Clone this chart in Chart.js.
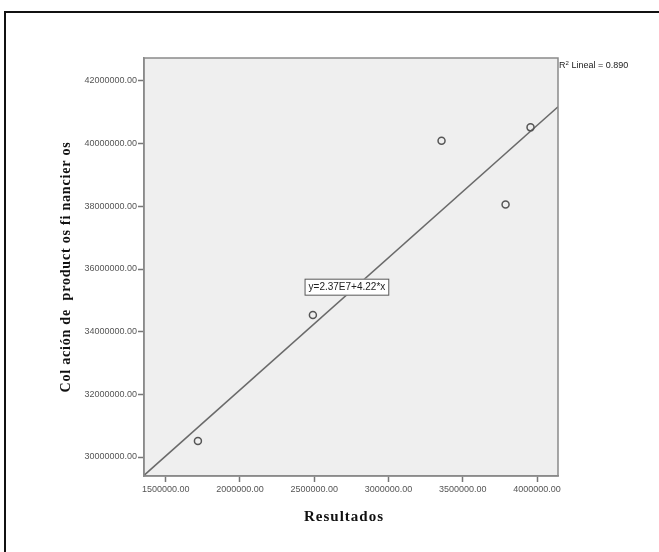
<!DOCTYPE html>
<html>
<head>
<meta charset="utf-8">
<script src="https://cdn.jsdelivr.net/npm/chart.js@4"></script>
<style>
  html, body { margin: 0; padding: 0; background: #fff; }
  #wrap { position: relative; width: 659px; height: 552px; overflow: hidden; }
  #frame { position: absolute; left: 4px; top: 11px; width: 700px; height: 600px; border: 2px solid #111; box-sizing: border-box; }
  #c { position: absolute; left: 0; top: 0; }
</style>
</head>
<body>
<div id="wrap">
  <div id="frame"></div>
  <canvas id="c" width="659" height="552"></canvas>
</div>
<script>
// ── DATOS ─────────────────────────────────────────────────────────────────────
const resultados = [1717000, 2491000, 3357000, 3788000, 3956000]
const colocacion = [30510000, 34530000, 40090000, 38060000, 40520000]

const xTicks = [1500000, 2000000, 2500000, 3000000, 3500000, 4000000]
const yTicks = [30000000, 32000000, 34000000, 36000000, 38000000, 40000000, 42000000]

const xRange = [1354000, 4141000]
const yRange = [29394000, 42734000]

// recta de ajuste mostrada en el gráfico: y = 2.37E7 + 4.22*x
const fitIntercept = 2.37e7
const fitSlope     = 4.22
const fitLabel     = 'y=2.37E7+4.22*x'
const fitLabelAt   = [2720000, 35420000]
const r2Label      = 'Lineal = 0.890'

const xTitle = 'Resultados'
const yTitle = 'Col ación de  product os fi nancier os'

const fitLine = xRange.map(x => ({ x, y: fitIntercept + fitSlope * x }))

// ── PLUGINS ───────────────────────────────────────────────────────────────────

// Fondo gris del área de trazado + marco
const plotBox = {
  id: 'plot-box',
  beforeDraw(chart) {
    const { ctx, chartArea: { left, top, right, bottom } } = chart
    ctx.save()
    ctx.fillStyle = '#efefef'
    ctx.fillRect(left, top, right - left, bottom - top)
    ctx.restore()
  },
  afterDraw(chart) {
    const { ctx, chartArea: { left, top, right, bottom } } = chart
    ctx.save()
    ctx.strokeStyle = '#8a8a8a'; ctx.lineWidth = 1.5
    ctx.strokeRect(left, top, right - left, bottom - top)
    ctx.restore()
  }
}

// Títulos de ejes, R² y etiqueta de la ecuación
const extras = {
  id: 'extras',
  afterDraw(chart) {
    const { ctx, chartArea: { left, top, right, bottom }, scales: { x, y } } = chart
    ctx.save()

    // título eje X
    ctx.fillStyle = '#111'
    ctx.font = 'bold 15px "Liberation Serif"'
    ctx.letterSpacing = '1px'
    ctx.textAlign = 'center'; ctx.textBaseline = 'middle'
    ctx.fillText(xTitle, (left + right) / 2 - 7, 517)

    // título eje Y (rotado)
    ctx.save()
    ctx.translate(66, (top + bottom) / 2)
    ctx.rotate(-Math.PI / 2)
    ctx.font = 'bold 14px "Liberation Serif"'
    ctx.letterSpacing = '0.8px'
    ctx.fillText(yTitle, 0, 0)
    ctx.restore()

    // R² Lineal
    ctx.letterSpacing = '0px'
    ctx.textAlign = 'left'; ctx.textBaseline = 'middle'
    ctx.fillStyle = '#222'
    ctx.font = '9px "Liberation Sans"'
    ctx.fillText('R', right + 1, top + 8)
    const rw = ctx.measureText('R').width
    ctx.font = '6px "Liberation Sans"'
    ctx.fillText('2', right + 1 + rw, top + 5)
    ctx.font = '9px "Liberation Sans"'
    ctx.fillText(r2Label, right + 1 + rw + 6, top + 8)

    // caja de la ecuación
    const cx = x.getPixelForValue(fitLabelAt[0])
    const cy = y.getPixelForValue(fitLabelAt[1])
    ctx.font = '10px "Liberation Sans"'
    const tw = ctx.measureText(fitLabel).width
    const bw = tw + 8, bh = 17
    ctx.fillStyle = '#fff'
    ctx.fillRect(cx - bw / 2, cy - bh / 2, bw, bh)
    ctx.strokeStyle = '#555'; ctx.lineWidth = 1
    ctx.strokeRect(cx - bw / 2 + 0.5, cy - bh / 2 + 0.5, bw - 1, bh - 1)
    ctx.fillStyle = '#222'
    ctx.textAlign = 'center'
    ctx.fillText(fitLabel, cx, cy + 0.5)

    ctx.restore()
  }
}

// ── CHART ─────────────────────────────────────────────────────────────────────

const fmtTick = v => Number(v).toFixed(2)

new Chart(document.getElementById('c'), {
  type: 'scatter',
  plugins: [plotBox, extras],
  data: {
    datasets: [
      {
        data: resultados.map((x, i) => ({ x, y: colocacion[i] })),
        pointRadius: 3.5, pointHoverRadius: 3.5,
        pointBackgroundColor: 'rgba(0,0,0,0)',
        pointBorderColor: '#555', pointBorderWidth: 1.5,
        order: 1
      },
      {
        type: 'line',
        data: fitLine,
        borderColor: '#6a6a6a', borderWidth: 1.5,
        pointRadius: 0, fill: false,
        order: 2
      }
    ]
  },
  options: {
    responsive: false, animation: false,
    layout: { padding: { left: 0, top: 58, right: 101, bottom: 46 } },
    plugins: { legend: { display: false }, tooltip: { enabled: false } },
    scales: {
      x: {
        type: 'linear', min: xRange[0], max: xRange[1],
        afterBuildTicks: s => { s.ticks = xTicks.map(value => ({ value })) },
        afterFit: s => { s.height = 30 },
        grid: { drawOnChartArea: false, tickLength: 6, tickColor: '#777', tickWidth: 1.5 },
        border: { color: '#8a8a8a', width: 1.5 },
        ticks: { color: '#555', padding: 2, font: { family: 'Liberation Sans', size: 9 }, maxRotation: 0, autoSkip: false, callback: fmtTick }
      },
      y: {
        type: 'linear', min: yRange[0], max: yRange[1],
        afterBuildTicks: s => { s.ticks = yTicks.map(value => ({ value })) },
        afterFit: s => { s.width = 144 },
        grid: { drawOnChartArea: false, tickLength: 6, tickColor: '#777', tickWidth: 1.5 },
        border: { color: '#8a8a8a', width: 1.5 },
        ticks: { color: '#555', padding: 1, font: { family: 'Liberation Sans', size: 9 }, autoSkip: false, callback: fmtTick }
      }
    }
  }
})
</script>
</body>
</html>
